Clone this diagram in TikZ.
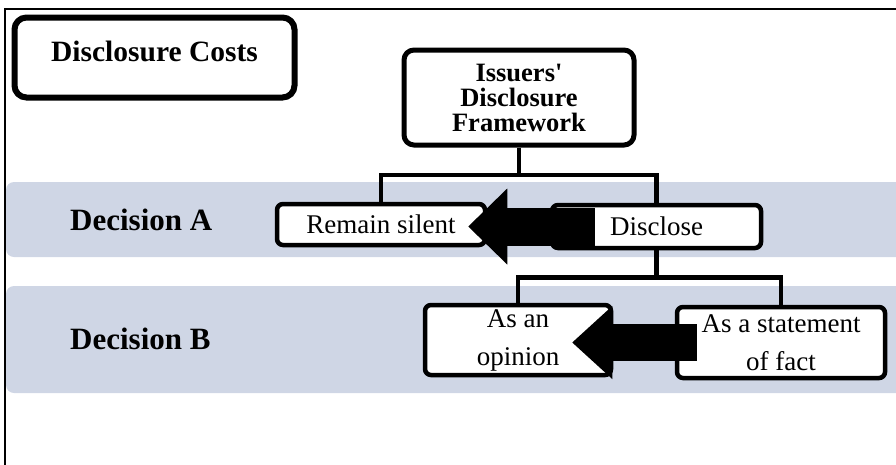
\documentclass[tikz,border=0pt]{standalone}
\usepackage{fontspec}
\setmainfont{Liberation Serif}
\usetikzlibrary{positioning,arrows.meta}

\definecolor{bandblue}{RGB}{207,214,229}

\tikzset{
  box/.style={draw, fill=white, line width=4.5pt, rounded corners=6pt, inner sep=0pt,
    align=center, font=\fontsize{27}{38}\selectfont},
  wire/.style={line width=4.5pt},
  bigA/.style={line width=38pt, -{Triangle[length=39pt,width=76pt,line width=0pt]}},
  bigB/.style={line width=37pt, -{Triangle[length=40pt,width=73pt,line width=0pt]}},
  decision/.style={anchor=base west, inner sep=0pt, font=\bfseries\fontsize{31}{36}\selectfont}
}

\begin{document}
\begin{tikzpicture}[x=1pt,y=-1pt]
    \useasboundingbox (0,0) rectangle (896,464);

    % bands
    \fill[bandblue, rounded corners=8pt] (6,182) rectangle (910,257);
    \fill[bandblue, rounded corners=8pt] (6,286) rectangle (910,393);

    % frame
    \draw[line width=2pt] (5,470) -- (5,9) -- (900,9);

    \node[box, line width=6pt, rounded corners=12pt, minimum width=280pt, minimum height=80pt,
      text height=26pt, text depth=19pt, font=\bfseries\fontsize{29.5}{32}\selectfont]
      (costs) at (154.5,57.5) {Disclosure Costs};

    \node[box, line width=5pt, rounded corners=10pt, minimum width=230pt, minimum height=95pt,
      font=\bfseries\fontsize{26.5}{25}\selectfont]
      (frame) at (519,97.5) {Issuers\textquotesingle\\Disclosure\\Framework};

    \node[decision] (decA) at (70,230) {Decision A};
    \node[decision] (decB) at (70,349) {Decision B};

    \node[box, minimum width=208pt, minimum height=41pt] (silent) at (381,224.5) {Remain silent};
    \node[box, minimum width=209pt, minimum height=43pt] (disclose) at (656.5,226.5) {Disclose};

    \node[box, minimum width=186pt, minimum height=70pt] (opinion) at (518,340) {As an\\opinion};
    \node[box, minimum width=208pt, minimum height=71pt] (fact) at (781,342.5) {As a statement\\of fact};

    % tree lines
    \coordinate[below=27.5pt of frame.south] (forkA);
    \draw[wire] (frame.south) -- (forkA);
    \draw[wire] (silent.north) |- (forkA) -| (disclose.north);

    \coordinate[below=27pt of disclose.south] (forkB);
    \draw[wire] (disclose.south) -- (forkB);
    \draw[wire] (opinion.north) |- (forkB) -| (fact.north);

    % block arrows
    \draw[bigA] ([xshift=45pt]disclose.west) -- ([xshift=-19pt]silent.east |- disclose.west);
    \draw[bigB] ([xshift=22pt]fact.west) -- ([xshift=-41pt]opinion.east |- fact.west);
\end{tikzpicture}
\end{document}
